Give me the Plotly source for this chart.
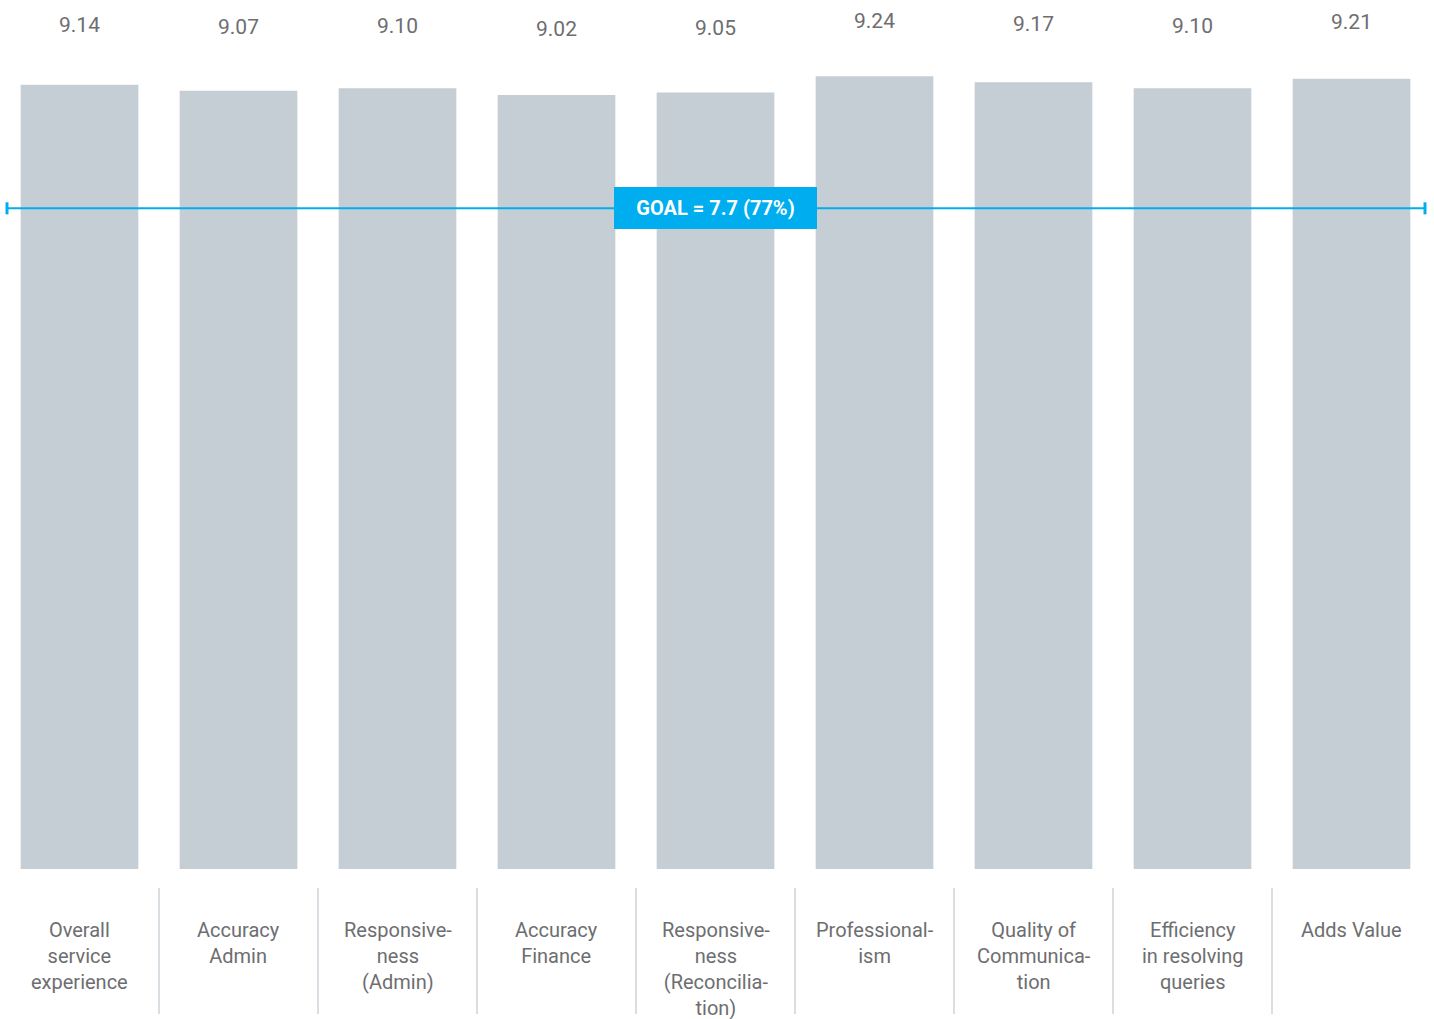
import plotly.graph_objects as go

# Survey scores per service dimension
categories = [
    "Overall<br>service<br>experience",
    "Accuracy<br>Admin",
    "Responsive-<br>ness<br>(Admin)",
    "Accuracy<br>Finance",
    "Responsive-<br>ness<br>(Reconcilia-<br>tion)",
    "Professional-<br>ism",
    "Quality of<br>Communica-<br>tion",
    "Efficiency<br>in resolving<br>queries",
    "Adds Value",
]
scores = [9.14, 9.07, 9.10, 9.02, 9.05, 9.24, 9.17, 9.10, 9.21]
goal_value = 7.7
goal_label = "GOAL = 7.7 (77%)"

BAR = "#c5cdd5"
BLUE = "#00aeef"
TEXT = "#6d6e71"
FONT = "Roboto"

x = list(range(len(categories)))

fig = go.Figure(
    go.Bar(x=x, y=scores, marker=dict(color=BAR, line=dict(width=0)),
           hoverinfo="skip")
)

annotations = []
# value labels above the bars (the label row follows the bar heights loosely)
for i, v in zip(x, scores):
    annotations.append(dict(
        x=i, y=v, xref="x", yref="y", text=f"{v:.2f}", showarrow=False,
        yanchor="middle", yshift=511.7 - 49.4 * v,
        font=dict(family=FONT, size=21, color=TEXT),
    ))
# category labels under the bars
for i, c in zip(x, categories):
    annotations.append(dict(
        x=i, y=0, xref="x", yref="y", text=c, showarrow=False,
        yanchor="top", yshift=-47, align="center",
        font=dict(family=FONT, size=20, color=TEXT),
    ))
# goal badge
annotations.append(dict(
    x=4, y=goal_value, xref="x", yref="y", text=f"<b>{goal_label}</b>",
    showarrow=False, xanchor="center", yanchor="middle",
    bgcolor=BLUE, borderpad=8, borderwidth=0, width=187, height=26,
    font=dict(family=FONT, size=20, color="white"),
))

shapes = []
# separators between categories
for i in range(len(categories) - 1):
    shapes.append(dict(
        type="line", xref="x", yref="paper", x0=i + 0.5, x1=i + 0.5,
        y0=-0.0221, y1=-0.169, line=dict(color="#ccd3da", width=1.5),
    ))
# goal line with end caps
gx0, gx1 = 7 / 1431, 1425 / 1431
shapes.append(dict(type="line", xref="paper", yref="y", x0=gx0, x1=gx1,
                   y0=goal_value, y1=goal_value, line=dict(color=BLUE, width=2)))
for gx in (gx0, gx1):
    shapes.append(dict(type="line", xref="paper", yref="y", ysizemode="pixel",
                       yanchor=goal_value, x0=gx, x1=gx, y0=-6, y1=6,
                       line=dict(color=BLUE, width=3)))

fig.update_layout(
    width=1434, height=1019,
    margin=dict(l=0, r=3, t=11, b=150),
    paper_bgcolor="white", plot_bgcolor="white",
    bargap=0.26, showlegend=False,
    xaxis=dict(range=[-0.5, len(categories) - 0.5], visible=False, fixedrange=True),
    yaxis=dict(range=[0, 10], visible=False, fixedrange=True),
    annotations=annotations, shapes=shapes,
    font=dict(family=FONT, color=TEXT),
)

fig.write_html("out.html", config={"displayModeBar": False})
